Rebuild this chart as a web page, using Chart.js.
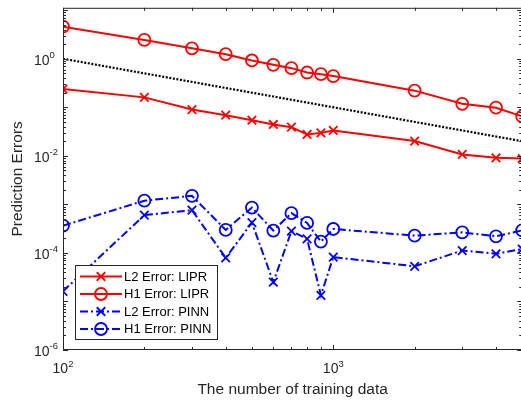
<!DOCTYPE html>
<html>
<head>
<meta charset="utf-8">
<script src="https://cdn.jsdelivr.net/npm/chart.js@4/dist/chart.umd.min.js"></script>
<style>
html,body{margin:0;padding:0;overflow:hidden;background:#fff;}
canvas{display:block;}
</style>
</head>
<body>
<canvas id="c" width="530" height="400" style="width:530px;height:400px;"></canvas>
<script>
// ---- data ----
const nTrain  = [100, 200, 300, 400, 500, 600, 700, 800, 900, 1000, 2000, 3000, 4000, 5000];
const l2Lipr  = [0.237, 0.160, 0.0897, 0.0686, 0.0542, 0.0442, 0.0389, 0.0275, 0.0297, 0.0333, 0.0201, 0.0107, 0.0091, 0.0088];
const h1Lipr  = [4.57, 2.44, 1.64, 1.24, 0.92, 0.75, 0.64, 0.52, 0.48, 0.44, 0.22, 0.118, 0.098, 0.065];
const l2Pinn  = [1.62e-5, 6.0e-4, 7.6e-4, 7.9e-5, 4.2e-4, 2.5e-5, 2.8e-4, 1.95e-4, 1.34e-5, 8.2e-5, 5.3e-5, 1.12e-4, 9.6e-5, 1.2e-4];
const h1Pinn  = [3.64e-4, 1.19e-3, 1.5e-3, 2.97e-4, 8.6e-4, 2.88e-4, 6.6e-4, 4.14e-4, 1.71e-4, 3.11e-4, 2.27e-4, 2.65e-4, 2.2e-4, 2.9e-4];
const refX    = [100, 5000];
const refY    = [1, 0.02];
const seriesNames = ["L2 Error: LIPR", "H1 Error: LIPR", "L2 Error: PINN", "H1 Error: PINN"];
const xTickExps = [2, 3];
const yTickExps = [-6, -4, -2, 0];
const xLabel = "The number of training data";
const yLabel = "Prediction Errors";

const RED = "#ff0000", BLUE = "#0000ff", AX = "#262626";
const FONT = "'Liberation Sans', Arial, Helvetica, sans-serif";
const toXY = (xs, ys) => xs.map((x, i) => ({x: x, y: ys[i]}));

function mk(label, ys, color, style, dash) {
  return {
    label: label, data: toXY(nTrain, ys),
    borderColor: color, backgroundColor: "rgba(0,0,0,0)",
    borderWidth: 2, borderDash: dash,
    pointStyle: style, pointRadius: style === "circle" ? 6 : 6,
    pointBorderColor: color, pointBackgroundColor: "rgba(0,0,0,0)",
    pointBorderWidth: 1.8, tension: 0
  };
}

const datasets = [
  mk(seriesNames[0], l2Lipr, RED, "crossRot", []),
  mk(seriesNames[1], h1Lipr, RED, "circle", []),
  mk(seriesNames[2], l2Pinn, BLUE, "crossRot", [8, 3, 2, 3]),
  mk(seriesNames[3], h1Pinn, BLUE, "circle", [8, 3, 2, 3]),
  {label: "ref", data: toXY(refX, refY), borderColor: "#000", borderWidth: 2.2,
   borderDash: [2, 1.6], pointRadius: 0, tension: 0}
];

function sup(ctx, base, exp, x, y, align, bs, es, rise) {
  ctx.font = bs + "px " + FONT;
  const wb = ctx.measureText(base).width;
  ctx.font = es + "px " + FONT;
  const we = ctx.measureText(exp).width;
  let x0 = x;
  if (align === "center") x0 = x - (wb + we) / 2;
  else if (align === "right") x0 = x - (wb + we);
  ctx.textAlign = "left";
  ctx.textBaseline = "alphabetic";
  ctx.font = bs + "px " + FONT;
  ctx.fillText(base, x0, y);
  ctx.font = es + "px " + FONT;
  ctx.fillText(exp, x0 + wb, y - rise);
}

const axesPlugin = {
  id: "matlabAxes",
  afterDatasetsDraw(chart) {
    const ctx = chart.ctx, a = chart.chartArea;
    const xs = chart.scales.x, ys = chart.scales.y;
    ctx.save();
    ctx.strokeStyle = AX; ctx.fillStyle = AX; ctx.lineWidth = 1;
    // frame
    ctx.strokeRect(a.left + 0.5, a.top + 0.5, a.right - a.left - 1, a.bottom - a.top - 1);
    // ticks
    ctx.beginPath();
    for (let d = -7; d <= 2; d++) {
      for (let m = 1; m <= 9; m++) {
        const v = m * Math.pow(10, d);
        if (v < ys.min * 0.999 || v > ys.max) continue;
        const p = Math.round(ys.getPixelForValue(v)) + 0.5;
        const L = m === 1 ? 5 : 3;
        ctx.moveTo(a.left, p); ctx.lineTo(a.left + L, p);
        ctx.moveTo(a.right, p); ctx.lineTo(a.right - L, p);
      }
    }
    for (let d = 2; d <= 3; d++) {
      for (let m = 1; m <= 9; m++) {
        const v = m * Math.pow(10, d);
        if (v < xs.min * 0.999 || v > xs.max * 1.001) continue;
        const p = Math.round(xs.getPixelForValue(v)) + 0.5;
        const L = m === 1 ? 5 : 3;
        ctx.moveTo(p, a.bottom); ctx.lineTo(p, a.bottom - L);
        ctx.moveTo(p, a.top); ctx.lineTo(p, a.top + L);
      }
    }
    ctx.stroke();
    // tick labels
    yTickExps.forEach(e => {
      const p = ys.getPixelForValue(Math.pow(10, e));
      sup(ctx, "10", String(e), 34, p + 6, "left", 14, 9.5, 7);
    });
    xTickExps.forEach(e => {
      const p = xs.getPixelForValue(Math.pow(10, e));
      sup(ctx, "10", String(e), p, a.bottom + 23, "center", 14, 9.5, 6);
    });
    // axis titles
    ctx.font = "15.5px " + FONT;
    ctx.textAlign = "center"; ctx.textBaseline = "alphabetic";
    ctx.fillText(xLabel, (a.left + a.right) / 2, 394);
    ctx.save();
    ctx.translate(22, (a.top + a.bottom) / 2);
    ctx.rotate(-Math.PI / 2);
    ctx.fillText(yLabel, 0, 0);
    ctx.restore();
    // legend
    const bx = 75, by = 265, bw = 142, bh = 74;
    ctx.fillStyle = "#fff";
    ctx.fillRect(bx, by, bw, bh);
    ctx.strokeStyle = AX; ctx.lineWidth = 1;
    ctx.strokeRect(bx + 0.5, by + 0.5, bw, bh);
    for (let i = 0; i < 4; i++) {
      const ds = chart.data.datasets[i];
      const cy = 276.5 + i * 17.5;
      ctx.strokeStyle = ds.borderColor; ctx.lineWidth = 2;
      ctx.setLineDash(ds.borderDash);
      ctx.beginPath(); ctx.moveTo(80, cy); ctx.lineTo(122, cy); ctx.stroke();
      ctx.setLineDash([]);
      ctx.fillStyle = "rgba(0,0,0,0)";
      ctx.strokeStyle = ds.borderColor; ctx.lineWidth = 1.8;
      Chart.helpers.drawPoint(ctx, {pointStyle: ds.pointStyle, radius: ds.pointRadius, rotation: 0, borderWidth: 1.8}, 101, cy);
      ctx.fillStyle = "#000";
      ctx.font = "13px " + FONT;
      ctx.textAlign = "left"; ctx.textBaseline = "middle";
      ctx.fillText(ds.label, 124, cy + 0.5);
    }
    ctx.restore();
  }
};

new Chart(document.getElementById("c"), {
  type: "line",
  data: {datasets: datasets},
  options: {
    responsive: false, animation: false, devicePixelRatio: 1,
    layout: {padding: {left: 63, top: 6, right: 3, bottom: 50}},
    plugins: {legend: {display: false}, tooltip: {enabled: false}},
    scales: {
      x: {type: "logarithmic", min: 100, max: 5000, display: false},
      y: {type: "logarithmic", min: 1e-6, max: 11.2, display: false}
    }
  },
  plugins: [axesPlugin]
});
</script>
</body>
</html>
